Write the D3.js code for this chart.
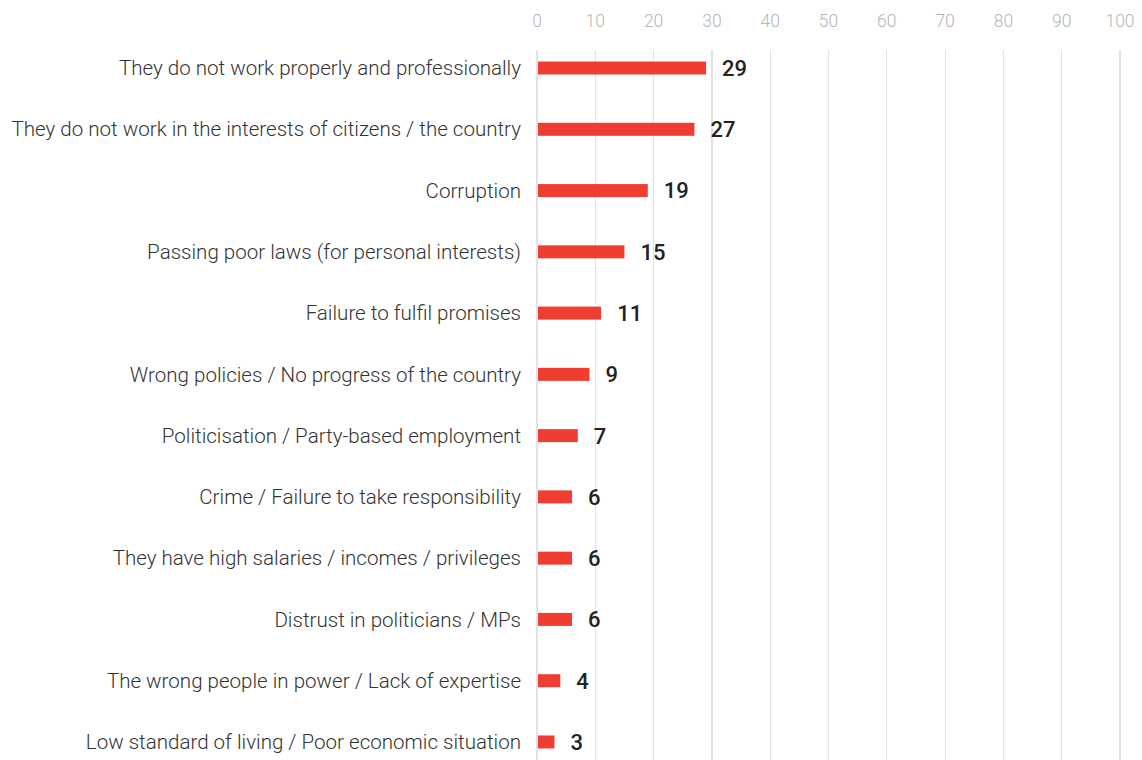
<!DOCTYPE html>
<html><head><meta charset="utf-8">
<script src="https://cdn.jsdelivr.net/npm/d3@7"></script>
<style>
html,body{margin:0;padding:0;background:#fff;}
svg{display:block;}
</style></head>
<body>
<svg id="chart" width="1142" height="760"></svg>
<script>
const categories = [
  "They do not work properly and professionally",
  "They do not work in the interests of citizens / the country",
  "Corruption",
  "Passing poor laws (for personal interests)",
  "Failure to fulfil promises",
  "Wrong policies / No progress of the country",
  "Politicisation / Party-based employment",
  "Crime / Failure to take responsibility",
  "They have high salaries / incomes / privileges",
  "Distrust in politicians / MPs",
  "The wrong people in power / Lack of expertise",
  "Low standard of living / Poor economic situation"
];
const values = [29, 27, 19, 15, 11, 9, 7, 6, 6, 6, 4, 3];
const tickValues = [0, 10, 20, 30, 40, 50, 60, 70, 80, 90, 100];

const svg = d3.select("#chart");
const x = d3.scaleLinear().domain([0, 100]).range([537, 1120]);
const y = d3.scaleBand().domain(categories).range([37.4, 772.6]).padding(0);
const barH = 13;

// gridlines
svg.append("g").selectAll("line").data(tickValues).join("line")
  .attr("x1", d => x(d)).attr("x2", d => x(d))
  .attr("y1", 50).attr("y2", 760)
  .attr("stroke", "#e3e3e3").attr("stroke-width", 1.2)
  .attr("shape-rendering", "crispEdges");

// top axis labels
svg.append("g").selectAll("text").data(tickValues).join("text")
  .attr("x", d => x(d)).attr("y", 27)
  .attr("text-anchor", "middle")
  .attr("font-family", "Roboto, sans-serif").attr("font-weight", 300)
  .attr("font-size", 17.5).attr("fill", "#b5b5b5")
  .text(d => d);

// bars
svg.append("g").selectAll("rect").data(values).join("rect")
  .attr("x", x(0) + 1)
  .attr("y", (d, i) => y(categories[i]) + y.bandwidth() / 2 - barH / 2)
  .attr("width", d => x(d) - x(0) - 1)
  .attr("height", barH)
  .attr("fill", "#ef3e31");

// category labels
svg.append("g").selectAll("text").data(categories).join("text")
  .attr("x", 521)
  .attr("y", d => y(d) + y.bandwidth() / 2)
  .attr("dy", "0.35em")
  .attr("text-anchor", "end")
  .attr("font-family", "Roboto, sans-serif").attr("font-weight", 300)
  .attr("font-size", 20.55).attr("fill", "#333")
  .text(d => d);

// value labels
svg.append("g").selectAll("text").data(values).join("text")
  .attr("x", d => x(d) + 16)
  .attr("y", (d, i) => y(categories[i]) + y.bandwidth() / 2)
  .attr("dy", "0.36em")
  .attr("font-family", "Roboto, sans-serif").attr("font-weight", 500)
  .attr("font-size", 22).attr("fill", "#222")
  .text(d => d);
</script>
</body></html>
